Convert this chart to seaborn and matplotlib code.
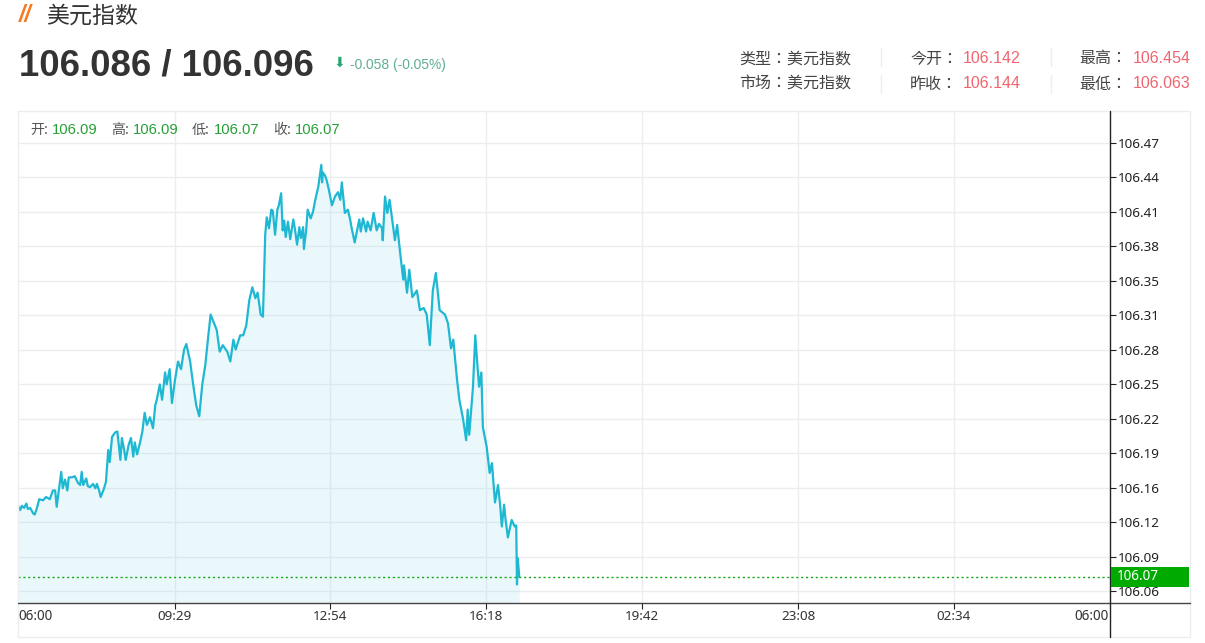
import matplotlib
matplotlib.use("Agg")
import matplotlib.pyplot as plt
from matplotlib.lines import Line2D
from matplotlib.patches import Rectangle
import pandas as pd
import seaborn as sns

# Data
minutes = [0, 3, 5, 8, 11, 13, 16, 20, 22, 25, 28, 33, 37, 42, 46, 49, 51, 57, 59, 62,
           65, 67, 71, 75, 79, 82, 84, 86, 90, 92, 95, 99, 102, 104, 107, 109, 113, 116, 119, 121,
           124, 128, 131, 135, 137, 140, 142, 146, 149, 152, 154, 157, 161, 164, 167, 170, 174, 178, 181, 183,
           187, 190, 194, 196, 200, 203, 207, 211, 215, 219, 222, 227, 231, 235, 239, 243, 247, 251, 254, 258,
           262, 266, 270, 276, 280, 284, 287, 293, 297, 301, 305, 309, 313, 316, 320, 323, 326, 328, 331, 334,
           336, 339, 342, 344, 347, 349, 351, 353, 356, 359, 363, 365, 368, 371, 373, 376, 377, 380, 382, 386,
           389, 392, 396, 400, 401, 402, 405, 407, 410, 414, 418, 422, 425, 427, 431, 435, 438, 440, 444, 450,
           452, 455, 459, 461, 465, 469, 473, 476, 480, 481, 484, 487, 490, 494, 497, 500, 504, 508, 509, 513,
           516, 520, 526, 530, 535, 539, 543, 547, 551, 556, 563, 567, 571, 574, 579, 582, 587, 591, 593, 595,
           600, 603, 605, 608, 611, 613, 618, 622, 625, 629, 633, 636, 638, 641, 643, 646, 651, 655, 657, 658,
           659, 661]
price = [106.138, 106.134, 106.138, 106.136, 106.140, 106.135, 106.136, 106.131, 106.130, 106.136,
         106.144, 106.143, 106.146, 106.144, 106.152, 106.152, 106.137, 106.169, 106.154, 106.162,
         106.152, 106.164, 106.164, 106.165, 106.159, 106.157, 106.169, 106.157, 106.163, 106.156,
         106.155, 106.158, 106.154, 106.158, 106.152, 106.146, 106.153, 106.160, 106.189, 106.178,
         106.201, 106.205, 106.206, 106.180, 106.200, 106.189, 106.180, 106.194, 106.200, 106.183,
         106.196, 106.185, 106.196, 106.206, 106.223, 106.212, 106.219, 106.209, 106.230, 106.235,
         106.249, 106.235, 106.260, 106.249, 106.263, 106.232, 106.253, 106.270, 106.263, 106.281,
         106.286, 106.270, 106.249, 106.230, 106.220, 106.249, 106.267, 106.294, 106.313, 106.306,
         106.299, 106.279, 106.285, 106.279, 106.270, 106.290, 106.281, 106.294, 106.294, 106.303,
         106.326, 106.338, 106.328, 106.333, 106.313, 106.311, 106.386, 106.402, 106.392, 106.409,
         106.408, 106.386, 106.409, 106.413, 106.424, 106.390, 106.399, 106.384, 106.398, 106.382,
         106.400, 106.392, 106.377, 106.393, 106.383, 106.393, 106.373, 106.390, 106.409, 106.401,
         106.407, 106.418, 106.430, 106.450, 106.434, 106.443, 106.440, 106.436, 106.427, 106.413,
         106.421, 106.425, 106.418, 106.434, 106.406, 106.409, 106.400, 106.392, 106.379, 106.400,
         106.389, 106.401, 106.389, 106.398, 106.390, 106.406, 106.390, 106.396, 106.392, 106.381,
         106.421, 106.406, 106.418, 106.397, 106.381, 106.395, 106.369, 106.345, 106.358, 106.333,
         106.354, 106.329, 106.335, 106.317, 106.319, 106.313, 106.285, 106.335, 106.351, 106.317,
         106.313, 106.305, 106.282, 106.290, 106.253, 106.235, 106.217, 106.198, 106.226, 106.203,
         106.247, 106.294, 106.274, 106.247, 106.260, 106.210, 106.192, 106.168, 106.177, 106.141,
         106.157, 106.137, 106.119, 106.139, 106.125, 106.109, 106.125, 106.119, 106.120, 106.066,
         106.090, 106.073]

y_ticks = [106.470, 106.4385, 106.4069, 106.3754, 106.3438, 106.3123, 106.2808,
           106.2492, 106.2177, 106.1862, 106.1546, 106.1231, 106.0915, 106.060]
y_labels = ["106.47", "106.44", "106.41", "106.38", "106.35", "106.31", "106.28",
            "106.25", "106.22", "106.19", "106.16", "106.12", "106.09", "106.06"]
x_ticks = [207, 412, 617, 823, 1029, 1234]
x_labels = ["09:29", "12:54", "16:18", "19:42", "23:08", "02:34"]
last_price = 106.073

W, H = 1205, 643
LINE = "#1fb8d3"
GRID = "#ebeef1"
DARK = "#333333"
RED = "#f0656f"
GREEN = "#25a035"
CJK = ["Noto Sans CJK SC", "DejaVu Sans"]
CJK_TC = ["Noto Sans CJK TC", "DejaVu Sans"]
LATIN = ["Liberation Sans", "DejaVu Sans"]
TICK_FONT = ["Noto Sans", "DejaVu Sans"]

sns.set_theme(style="white")
plt.rcParams["font.family"] = TICK_FONT

fig = plt.figure(figsize=(W / 100, H / 100), dpi=100, facecolor="white")
ax = fig.add_axes([18 / W, 1 - 603 / H, (1110 - 18) / W, (603 - 111) / H])
y_min, y_max = 106.049, 106.4993

df = pd.DataFrame({"minutes": minutes, "price": price})
ax.fill_between(df["minutes"], df["price"], y_min, color=LINE, alpha=0.085, lw=0, zorder=2)
sns.lineplot(data=df, x="minutes", y="price", ax=ax, color=LINE, lw=1.6, errorbar=None, zorder=3)
ax.axhline(last_price, color="#14a814", lw=1, ls=(0, (1.5, 2)), zorder=4)

ax.set_xlim(0, 1440)
ax.set_ylim(y_min, y_max)
ax.set_xlabel("")
ax.set_ylabel("")
ax.yaxis.tick_right()
ax.set_yticks(y_ticks, y_labels)
ax.set_xticks(x_ticks, x_labels)
ax.tick_params(axis="y", length=4, width=0.8, color="#222222", labelsize=9.7, labelcolor="#222222", pad=1.5, right=True)
ax.tick_params(axis="x", length=4, width=0.8, color="#222222", labelsize=9.7, labelcolor="#333333", pad=1, bottom=True)
ax.grid(True, color=GRID, lw=1)
ax.set_axisbelow(True)
for name in ["top", "left", "right", "bottom"]:
    ax.spines[name].set_visible(False)


def fx(x):
    return x / W


def fy(y):
    return 1 - y / H


def fig_line(x0, y0, x1, y1, color, lw=1.0, z=5):
    fig.add_artist(Line2D([fx(x0), fx(x1)], [fy(y0), fy(y1)], color=color, lw=lw, zorder=z))


def label(x, y, s, size, color, family=CJK, ha="left", weight="normal", style="normal", z=7):
    fig.text(fx(x), fy(y), s, fontsize=size * 0.72, color=color, family=family, ha=ha, va="center",
             fontweight=weight, fontstyle=style, zorder=z)


# outer frame and the dark axis lines running past the plot
fig_line(18, 111, 1190, 111, GRID)
fig_line(18, 637, 1190, 637, GRID)
fig_line(18, 111, 18, 637, GRID)
fig_line(1190, 111, 1190, 637, GRID)
fig_line(18, 603, 1110, 603, "#444444")
fig_line(1110, 603, 1190, 603, "#444444")
fig_line(1110, 111, 1110, 637, "#222222")

# end labels on the time axis
label(18, 616, "06:00", 13.5, "#333333", family=TICK_FONT)
label(1109, 616, "06:00", 13.5, "#333333", family=TICK_FONT, ha="right")

# price tag
fig.add_artist(Rectangle((fx(1111), fy(587)), 78 / W, 20 / H, transform=fig.transFigure,
                         facecolor="#00aa00", edgecolor="none", zorder=6))
label(1117, 577, "106.07", 13.5, "white", family=TICK_FONT)

# header
label(19, 15, "//", 23, "#f47a20", family=LATIN, weight="bold", style="italic")
label(46, 16, "美元指数", 23, DARK)
label(19, 66, "106.086 / 106.096", 36.6, DARK, family=LATIN, weight="bold")
label(339, 63, "⬇", 14, "#27a673", family=["DejaVu Sans"], ha="center")
label(350, 64.5, "-0.058 (-0.05%)", 13.8, "#5fae94", family=LATIN)

# open / high / low / close row
for x0, name, x1, val in [(30, "开:", 52, "106.09"), (111, "高:", 133, "106.09"),
                          (192, "低:", 214, "106.07"), (273, "收:", 295, "106.07")]:
    label(x0, 130, name, 14, "#555555")
    label(x1, 130, val, 14.7, GREEN, family=LATIN)

# info block
label(739, 59, "类型：美元指数", 16, "#444444", family=CJK_TC)
label(739, 84, "市场：美元指数", 16, "#444444", family=CJK_TC)
for x0, x1, top, bottom in [(910, 963, ("今开：", "106.142"), ("昨收：", "106.144")),
                            (1079, 1133, ("最高：", "106.454"), ("最低：", "106.063"))]:
    label(x0, 59, top[0], 16, "#444444", family=CJK_TC)
    label(x1, 58.5, top[1], 16, RED, family=LATIN)
    label(x0, 84, bottom[0], 16, "#444444", family=CJK_TC)
    label(x1, 84, bottom[1], 16, RED, family=LATIN)
for x in [881, 1051]:
    fig_line(x, 48, x, 66, "#eeeeee")
    fig_line(x, 75, x, 93, "#eeeeee")

fig.savefig("out.png", dpi=100)
